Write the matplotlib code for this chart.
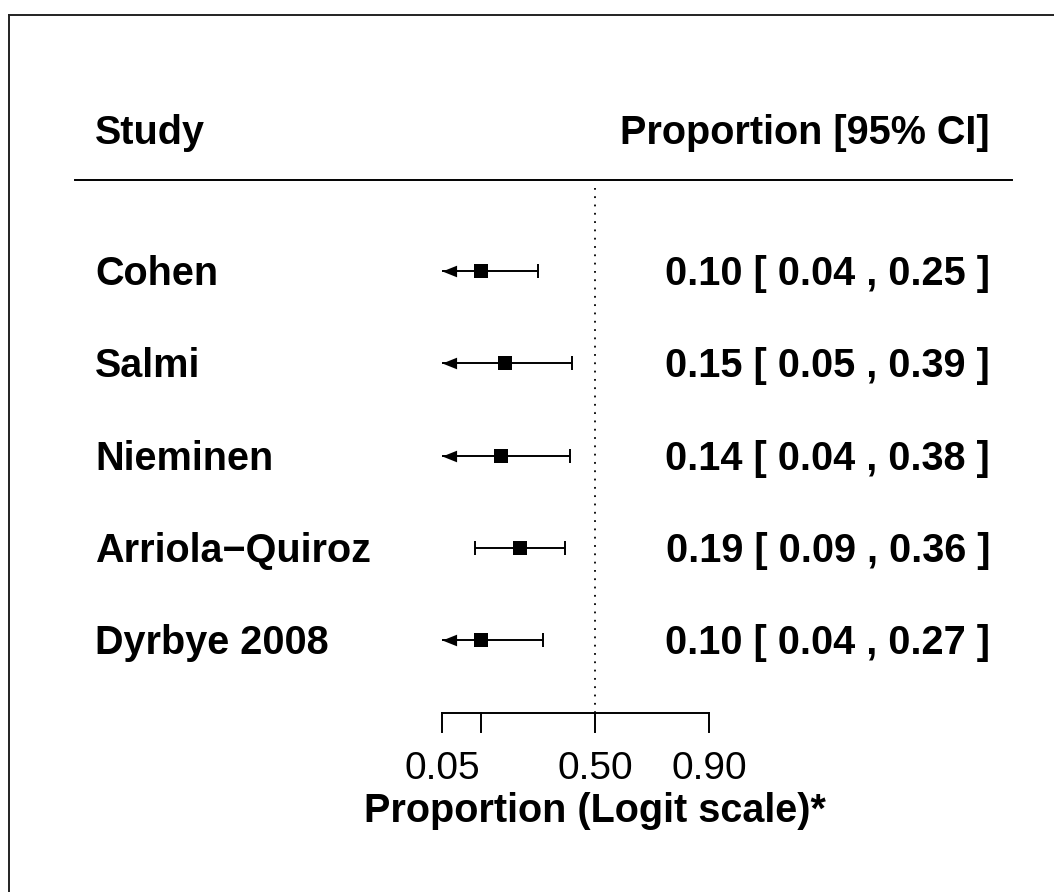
import numpy as np
import matplotlib
matplotlib.use("Agg")
import matplotlib.pyplot as plt
from matplotlib.lines import Line2D
from matplotlib.path import Path

# ---- data ----
studies = ["Cohen", "Salmi", "Nieminen", "Arriola\u2212Quiroz", "Dyrbye 2008"]
est = [0.10, 0.15, 0.14, 0.19, 0.10]
lower = [0.04, 0.05, 0.04, 0.09, 0.04]
upper = [0.25, 0.39, 0.38, 0.36, 0.27]
tick_vals = [0.05, 0.10, 0.50, 0.90]
tick_labels = ["0.05", "", "0.50", "0.90"]
ref_val = 0.50
xlim_p = (0.05, 0.90)


def logit(p):
    p = np.asarray(p, dtype=float)
    return np.log(p / (1 - p))


W, H = 1054, 892
fig = plt.figure(figsize=(W / 100, H / 100), dpi=100)
ax = fig.add_axes([0, 0, 1, 1])
ax.set_axis_off()

px_per_unit = 52.0
x0 = 595.0  # pixel of logit 0
ax.set_xlim((0 - x0) / px_per_unit, (W - x0) / px_per_unit)
row_px = 92.25
ax.set_ylim(1 + (640 - H) / row_px, 1 + 640 / row_px)


def ypx(py):
    return 1 + (640 - py) / row_px


font = "Liberation Sans"
fs = 28.5
k = len(studies)
rows = np.arange(k, 0, -1)
xf = ax.get_yaxis_transform()  # x axes fraction, y data

lw = 1.4
lo_clip = logit(xlim_p[0])
tri = Path([(0, 0), (2, 0.8), (2, -0.8), (0, 0)], [Path.MOVETO, Path.LINETO, Path.LINETO, Path.CLOSEPOLY])

for name, e, lo, hi, y in zip(studies, est, lower, upper, rows):
    le, ll, lh = logit(e), logit(lo), logit(hi)
    left = max(ll, lo_clip)
    ax.plot([left, lh], [y, y], color="black", lw=lw, solid_capstyle="butt")
    ax.plot([lh], [y], marker="|", ms=9.5, mew=lw, color="black")
    if ll <= lo_clip + 1e-9:
        ax.plot([lo_clip], [y], marker=tri, ms=21, color="black", mew=0)
    else:
        ax.plot([ll], [y], marker="|", ms=9.5, mew=lw, color="black")
    ax.plot([le], [y], marker="s", ms=10, color="black", mew=0)
    yb = y - 14 / row_px
    ax.text(95 / W, yb, name, transform=xf, ha="left", va="baseline",
            fontsize=fs, fontweight="bold", family=font)
    ax.text(990 / W, yb, f"{e:.2f} [ {lo:.2f} , {hi:.2f} ]", transform=xf,
            ha="right", va="baseline", fontsize=fs, fontweight="bold", family=font)

# headers
ax.text(95 / W, ypx(144), "Study", transform=xf, ha="left", va="baseline",
        fontsize=fs, fontweight="bold", family=font)
ax.text(990 / W, ypx(144), "Proportion [95% CI]", transform=xf, ha="right",
        va="baseline", fontsize=fs, fontweight="bold", family=font)
ax.plot([75 / W, 1012 / W], [ypx(180), ypx(180)], transform=xf, color="black", lw=1.4)

# reference line
ax.plot([logit(ref_val)] * 2, [ypx(713), ypx(188)], color="black", lw=1.3,
        linestyle=(0, (1, 3.6)))

# x axis
y_axis = ypx(713)
ax.plot([logit(tick_vals[0]), logit(tick_vals[-1])], [y_axis, y_axis], color="black", lw=lw)
for tv, tl in zip(tick_vals, tick_labels):
    ax.plot([logit(tv)] * 2, [y_axis, ypx(732)], color="black", lw=lw)
    if tl:
        ax.text(logit(tv), ypx(779), tl, ha="center", va="baseline", fontsize=28, family=font)
ax.text(logit(ref_val), ypx(822), "Proportion (Logit scale)*", ha="center", va="baseline",
        fontsize=fs, fontweight="bold", family=font)

# outer frame (partial, as in the reference)
fig.add_artist(Line2D([9 / W, 1], [1 - 15 / H, 1 - 15 / H], color="#222222", lw=1.4))
fig.add_artist(Line2D([9 / W, 9 / W], [0, 1 - 15 / H], color="#222222", lw=1.4))

fig.savefig("out.png", dpi=100)
